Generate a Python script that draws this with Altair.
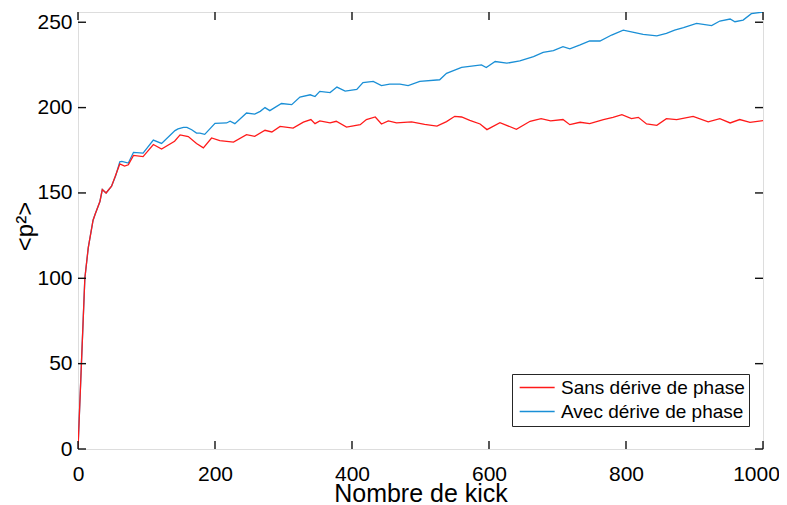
import altair as alt
import pandas as pd

# ---- data ----
kick_sans = [0, 5, 10, 15, 22, 25, 32, 35.5, 41, 49, 61, 68, 73.5, 81, 95, 110, 122, 141, 149, 161,
             173, 183, 195, 207, 227, 246, 258, 273, 283, 295, 314, 329, 340, 346, 353, 368, 377, 392,
             412, 421, 434, 443, 453, 465, 487, 506, 524, 538, 550, 560, 572, 587, 597, 616, 640, 660,
             676, 690, 708, 718, 733, 747, 767, 781, 794, 808, 818, 830, 845, 859, 874, 898, 920, 937,
             952, 966, 981, 1000]
p2_sans = [0, 50, 100, 118, 134, 137.5, 145, 152, 150, 154, 167, 165.7, 166.5, 172, 171.3, 178.4, 175.7,
           180.3, 184, 183, 179, 176.4, 182.2, 180.7, 179.8, 184.2, 183.2, 186.7, 185.7, 189, 188, 191.5,
           193, 190.6, 192.2, 191, 192, 188.6, 190, 193, 194.5, 190.4, 192.2, 191, 191.6, 190.2, 189.2,
           191.8, 194.9, 194.5, 192.5, 190.4, 187.1, 191.2, 187.3, 192, 193.5, 192.2, 193, 190, 191.4,
           190.6, 193, 194.3, 195.9, 193.5, 194.3, 190.4, 189.6, 193.5, 193, 194.9, 191.6, 193.5, 191,
           193, 191.4, 192.4]

kick_avec = [0, 5, 10, 15, 22, 25, 32, 35.5, 41, 49, 55, 61, 64, 73.5, 81, 95, 110, 122, 141.6, 146, 154,
             159, 166, 173, 178, 185, 200, 217, 222, 229, 246, 258, 266, 273, 280, 297, 312, 324, 339,
             346, 353, 368, 378, 390, 407, 416, 431, 443, 455, 470, 482, 499, 528, 538, 560, 589, 596,
             609, 626, 645, 665, 679, 694, 708, 718, 733, 747, 762, 779, 796, 813, 825, 845, 859, 871,
             884, 903, 925, 937, 952, 959, 971, 983, 1000]
p2_avec = [0, 50, 100, 118, 134, 137.5, 145, 152, 150, 154, 160, 168.3, 168.5, 167.5, 173.8, 173.3, 181,
           179, 186.5, 187.5, 188.4, 188.4, 187, 185.1, 185, 184.3, 190.8, 191, 192, 190.6, 196.8, 196.2,
           197.8, 200, 198.2, 202.4, 201.7, 206.2, 207.5, 206.5, 209.5, 208.8, 212, 209.7, 210.7, 214.6,
           215.3, 212.9, 213.7, 213.7, 212.9, 215.3, 216.3, 220.1, 223.5, 225, 223.5, 227, 226, 227.3,
           229.9, 232.4, 233.4, 235.7, 234.4, 236.7, 239, 239, 242.5, 245.4, 243.9, 242.9, 242, 243.5,
           245.4, 246.8, 249.3, 248, 250.7, 251.9, 250.3, 251.3, 255, 256]

x_ticks = [0, 200, 400, 600, 800, 1000]
y_ticks = [0, 50, 100, 150, 200, 250]
series_names = ["Sans dérive de phase", "Avec dérive de phase"]
series_colors = ["#ff1a1a", "#1a8fd6"]

W, H = 685, 437
TICK = 8

df = pd.concat([
    pd.DataFrame({"kick": kick_avec, "p2": p2_avec, "serie": series_names[1], "ordre": 0}),
    pd.DataFrame({"kick": kick_sans, "p2": p2_sans, "serie": series_names[0], "ordre": 1}),
], ignore_index=True)
tick_df = pd.concat([
    pd.DataFrame({"kick": x_ticks, "p2": [None] * len(x_ticks), "side": "bottom"}),
    pd.DataFrame({"kick": x_ticks, "p2": [None] * len(x_ticks), "side": "top"}),
    pd.DataFrame({"kick": [None] * len(y_ticks), "p2": y_ticks, "side": "left"}),
    pd.DataFrame({"kick": [None] * len(y_ticks), "p2": y_ticks, "side": "right"}),
], ignore_index=True)

FONT = "Liberation Sans"
AX = "#262626"

xscale = alt.Scale(domain=[0, 1000], nice=False, zero=False)
yscale = alt.Scale(domain=[0, 256], nice=False, zero=False)

last_label_shift = {"condition": {"test": "datum.value == 1000", "value": -7}, "value": 0}

lines = alt.Chart(df).mark_line(strokeWidth=1.3, clip=True).encode(
    x=alt.X("kick:Q", scale=xscale,
            axis=alt.Axis(orient="bottom", values=x_ticks, ticks=False, domain=False,
                          grid=False, labelPadding=14, labelFontSize=21, labelFlush=False,
                          format="d", labelOffset=last_label_shift,
                          title="Nombre de kick", titleFontSize=25, titleFontWeight="normal",
                          titleBaseline="alphabetic", titleY=52, titleX=W / 2)),
    y=alt.Y("p2:Q", scale=yscale,
            axis=alt.Axis(orient="left", values=y_ticks, ticks=False, domain=False,
                          grid=False, labelPadding=6, labelFontSize=21, labelFlush=False,
                          title="<p²>", titleFontSize=24, titleFontWeight="normal",
                          titleBaseline="alphabetic", titleAlign="center", titleAngle=270,
                          titleX=-46, titleY=214)),
    color=alt.Color("serie:N",
                    scale=alt.Scale(domain=series_names, range=series_colors),
                    legend=alt.Legend(title=None, orient="none", legendX=434, legendY=362,
                                      symbolType="M-1,0L5,0", symbolSize=136,
                                      symbolStrokeWidth=1.3, labelOffset=26, labelLimit=0,
                                      labelFontSize=19, rowPadding=4, padding=4,
                                      strokeColor=AX, fillColor="white")),
    order=alt.Order("ordre:Q"),
)

# inward tick marks on the four sides of the box: x ticks placed by the x scale,
# y ticks by the y scale; each tick runs TICK px inwards from its edge.
xtick_expr = "scale('x', datum.kick)"
ytick_expr = "scale('y', datum.p2)"
ticks = alt.Chart(tick_df).transform_calculate(
    px=f"datum.side == 'bottom' || datum.side == 'top' ? {xtick_expr} : (datum.side == 'left' ? 0 : {W - TICK})",
    px2=f"datum.side == 'bottom' || datum.side == 'top' ? {xtick_expr} : (datum.side == 'left' ? {TICK} : {W})",
    py=f"datum.side == 'left' || datum.side == 'right' ? {ytick_expr} : (datum.side == 'top' ? 0 : {H - TICK})",
    py2=f"datum.side == 'left' || datum.side == 'right' ? {ytick_expr} : (datum.side == 'top' ? {TICK} : {H})",
).mark_rule(color="#111111", strokeWidth=1.4).encode(
    x=alt.X("px:Q", scale=None), x2="px2:Q",
    y=alt.Y("py:Q", scale=None), y2="py2:Q",
)

chart = alt.layer(lines, ticks).properties(
    width=W, height=H, autosize="none",
    padding={"left": 70, "top": 4, "right": 16, "bottom": 56},
).configure_view(stroke=AX, strokeWidth=1).configure_axis(
    labelColor="black", titleColor="black",
    labelFont=FONT, titleFont=FONT,
).configure_legend(labelFont=FONT, labelColor="black").configure(background="white")

chart.save("out.html", embed_options={"renderer": "svg", "actions": False})
